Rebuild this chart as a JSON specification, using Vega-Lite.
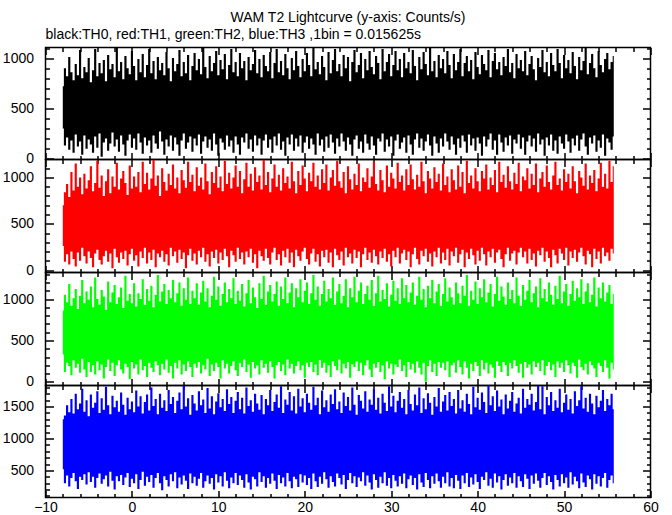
{
"$schema": "https://vega.github.io/schema/vega-lite/v6.json",
"autosize": {"type": "pad"},
"padding": {"left": 1.5, "top": 10.5, "right": 0, "bottom": 0},
"background": "white",
"spacing": 0,
"bounds": "flush",
"title": {"text": "WAM T2 Lightcurve (y-axis: Counts/s)", "anchor": "middle", "frame": "group", "font": "Liberation Sans", "fontSize": 14, "fontWeight": "normal", "color": "black", "offset": 2.5},
"config": {
  "view": {"stroke": "black", "strokeWidth": 1.5},
  "concat": {"spacing": 0},
  "axis": {"domain": false, "grid": false, "ticks": true, "tickColor": "black", "tickWidth": 1.5, "labelFont": "Liberation Sans", "labelFontSize": 14, "labelColor": "black", "title": null, "labelOverlap": false, "labelFlush": false, "format": "d"}
},
"data": {"values": [
{"x":-8,"a":720,"b":300,"c":700,"d":260,"e":860,"f":330,"g":1300,"h":520},
{"x":-7.75,"a":900,"b":130,"c":840,"d":90,"e":1050,"f":120,"g":1360,"h":300},
{"x":-7.5,"a":820,"b":210,"c":930,"d":170,"e":960,"f":230,"g":1520,"h":420},
{"x":-7.25,"a":1010,"b":90,"c":790,"d":60,"e":1180,"f":190,"g":1410,"h":250},
{"x":-7,"a":860,"b":180,"c":1060,"d":200,"e":920,"f":80,"g":1620,"h":380},
{"x":-6.75,"a":780,"b":60,"c":860,"d":120,"e":1010,"f":260,"g":1390,"h":460},
{"x":-6.5,"a":940,"b":240,"c":1150,"d":40,"e":1120,"f":170,"g":1700,"h":330},
{"x":-6.25,"a":830,"b":120,"c":900,"d":190,"e":880,"f":220,"g":1460,"h":210},
{"x":-6,"a":1080,"b":170,"c":1000,"d":100,"e":1040,"f":110,"g":1550,"h":400},
{"x":-5.75,"a":800,"b":40,"c":820,"d":240,"e":1230,"f":280,"g":1780,"h":350},
{"x":-5.5,"a":910,"b":230,"c":1040,"d":150,"e":950,"f":150,"g":1420,"h":440},
{"x":-5.25,"a":860,"b":100,"c":880,"d":70,"e":1090,"f":60,"g":1600,"h":280},
{"x":-5,"a":1000,"b":190,"c":970,"d":200,"e":990,"f":240,"g":1350,"h":470},
{"x":-4.75,"a":760,"b":140,"c":1120,"d":130,"e":1150,"f":120,"g":1690,"h":320},
{"x":-4.5,"a":880,"b":60,"c":850,"d":30,"e":900,"f":200,"g":1480,"h":400},
{"x":-4.25,"a":1090,"b":220,"c":940,"d":180,"e":1260,"f":90,"g":1560,"h":230},
{"x":-4,"a":820,"b":110,"c":1180,"d":220,"e":1000,"f":250,"g":1740,"h":380},
{"x":-3.75,"a":950,"b":250,"c":890,"d":110,"e":930,"f":140,"g":1400,"h":450},
{"x":-3.5,"a":850,"b":20,"c":1020,"d":60,"e":1110,"f":210,"g":1630,"h":290},
{"x":-3.25,"a":980,"b":160,"c":800,"d":150,"e":1030,"f":40,"g":1450,"h":360},
{"x":-3,"a":770,"b":200,"c":960,"d":210,"e":870,"f":180,"g":1810,"h":420},
{"x":-2.75,"a":1030,"b":80,"c":1090,"d":90,"e":1210,"f":270,"g":1520,"h":250},
{"x":-2.5,"a":890,"b":150,"c":830,"d":180,"e":960,"f":130,"g":1380,"h":480},
{"x":-2.25,"a":940,"b":260,"c":1010,"d":20,"e":1080,"f":230,"g":1670,"h":340},
{"x":-2,"a":810,"b":120,"c":900,"d":230,"e":1170,"f":70,"g":1490,"h":200},
{"x":-1.75,"a":1100,"b":190,"c":1160,"d":140,"e":940,"f":200,"g":1590,"h":410},
{"x":-1.5,"a":870,"b":70,"c":870,"d":80,"e":1020,"f":260,"g":1420,"h":330},
{"x":-1.25,"a":960,"b":230,"c":990,"d":190,"e":1140,"f":150,"g":1720,"h":430},
{"x":-1,"a":790,"b":140,"c":1070,"d":120,"e":890,"f":100,"g":1530,"h":270},
{"x":-0.75,"a":1020,"b":30,"c":940,"d":210,"e":1280,"f":220,"g":1370,"h":390},
{"x":-0.5,"a":900,"b":180,"c":810,"d":50,"e":980,"f":180,"g":1640,"h":460},
{"x":-0.25,"a":840,"b":240,"c":1130,"d":170,"e":1060,"f":30,"g":1460,"h":240},
{"x":0,"a":1070,"b":110,"c":880,"d":230,"e":950,"f":240,"g":1580,"h":370},
{"x":0.25,"a":920,"b":200,"c":1010,"d":100,"e":1190,"f":160,"g":1410,"h":300},
{"x":0.5,"a":780,"b":90,"c":900,"d":160,"e":910,"f":210,"g":1750,"h":440},
{"x":0.75,"a":990,"b":250,"c":1060,"d":40,"e":1070,"f":90,"g":1500,"h":210},
{"x":1,"a":860,"b":160,"c":840,"d":200,"e":1000,"f":270,"g":1660,"h":350},
{"x":1.25,"a":1040,"b":50,"c":1170,"d":130,"e":1240,"f":140,"g":1390,"h":480},
{"x":1.5,"a":810,"b":210,"c":930,"d":240,"e":930,"f":190,"g":1570,"h":260},
{"x":1.75,"a":930,"b":130,"c":1050,"d":70,"e":1120,"f":60,"g":1690,"h":400},
{"x":2,"a":1090,"b":180,"c":870,"d":190,"e":980,"f":230,"g":1440,"h":320},
{"x":2.25,"a":850,"b":60,"c":990,"d":110,"e":1160,"f":170,"g":1800,"h":430},
{"x":2.5,"a":970,"b":230,"c":1190,"d":220,"e":900,"f":120,"g":1510,"h":230},
{"x":2.75,"a":790,"b":150,"c":910,"d":30,"e":1050,"f":250,"g":1620,"h":380},
{"x":3,"a":1010,"b":100,"c":1020,"d":180,"e":1290,"f":200,"g":1380,"h":460},
{"x":3.25,"a":880,"b":270,"c":800,"d":140,"e":970,"f":80,"g":1700,"h":300},
{"x":3.5,"a":950,"b":170,"c":1100,"d":210,"e":1090,"f":220,"g":1480,"h":190},
{"x":3.75,"a":830,"b":40,"c":950,"d":90,"e":1180,"f":150,"g":1600,"h":410},
{"x":4,"a":1060,"b":190,"c":860,"d":170,"e":940,"f":270,"g":1430,"h":350},
{"x":4.25,"a":900,"b":120,"c":1040,"d":50,"e":1110,"f":110,"g":1760,"h":250},
{"x":4.5,"a":770,"b":230,"c":920,"d":240,"e":1010,"f":190,"g":1540,"h":440},
{"x":4.75,"a":1000,"b":80,"c":1140,"d":150,"e":1230,"f":40,"g":1650,"h":330},
{"x":5,"a":870,"b":210,"c":880,"d":200,"e":960,"f":230,"g":1400,"h":470},
{"x":5.25,"a":940,"b":140,"c":1000,"d":80,"e":1070,"f":160,"g":1590,"h":220},
{"x":5.5,"a":1080,"b":30,"c":830,"d":220,"e":1200,"f":260,"g":1720,"h":390},
{"x":5.75,"a":820,"b":180,"c":1080,"d":120,"e":920,"f":90,"g":1460,"h":280},
{"x":6,"a":960,"b":250,"c":970,"d":190,"e":1130,"f":210,"g":1830,"h":420},
{"x":6.25,"a":850,"b":100,"c":890,"d":20,"e":990,"f":130,"g":1500,"h":340},
{"x":6.5,"a":1030,"b":160,"c":1170,"d":160,"e":1260,"f":250,"g":1630,"h":210},
{"x":6.75,"a":780,"b":220,"c":950,"d":230,"e":940,"f":180,"g":1370,"h":450},
{"x":7,"a":920,"b":70,"c":1030,"d":100,"e":1100,"f":60,"g":1680,"h":300},
{"x":7.25,"a":1050,"b":200,"c":850,"d":180,"e":1010,"f":220,"g":1550,"h":400},
{"x":7.5,"a":880,"b":130,"c":1110,"d":60,"e":1190,"f":170,"g":1440,"h":260},
{"x":7.75,"a":990,"b":240,"c":910,"d":210,"e":930,"f":240,"g":1740,"h":370},
{"x":8,"a":840,"b":50,"c":1000,"d":140,"e":1080,"f":100,"g":1520,"h":460},
{"x":8.25,"a":1100,"b":170,"c":870,"d":240,"e":1220,"f":200,"g":1610,"h":230},
{"x":8.5,"a":910,"b":220,"c":1150,"d":90,"e":970,"f":150,"g":1400,"h":330},
{"x":8.75,"a":800,"b":110,"c":960,"d":170,"e":1130,"f":280,"g":1790,"h":420},
{"x":9,"a":1020,"b":190,"c":820,"d":40,"e":900,"f":70,"g":1470,"h":290},
{"x":9.25,"a":870,"b":80,"c":1060,"d":200,"e":1040,"f":210,"g":1660,"h":380},
{"x":9.5,"a":950,"b":250,"c":940,"d":130,"e":1270,"f":130,"g":1380,"h":200},
{"x":9.75,"a":1070,"b":140,"c":1120,"d":220,"e":990,"f":230,"g":1580,"h":440},
{"x":10,"a":830,"b":30,"c":890,"d":70,"e":1150,"f":180,"g":1710,"h":310},
{"x":10.25,"a":980,"b":200,"c":1010,"d":190,"e":920,"f":40,"g":1490,"h":410},
{"x":10.5,"a":890,"b":160,"c":850,"d":110,"e":1060,"f":260,"g":1620,"h":250},
{"x":10.75,"a":1040,"b":90,"c":1180,"d":230,"e":1200,"f":160,"g":1430,"h":470},
{"x":11,"a":790,"b":230,"c":930,"d":150,"e":960,"f":220,"g":1770,"h":340},
{"x":11.25,"a":930,"b":120,"c":1050,"d":30,"e":1120,"f":100,"g":1540,"h":220},
{"x":11.5,"a":1090,"b":180,"c":880,"d":210,"e":1010,"f":190,"g":1650,"h":390},
{"x":11.75,"a":860,"b":60,"c":1000,"d":160,"e":1250,"f":250,"g":1400,"h":300},
{"x":12,"a":960,"b":220,"c":1130,"d":90,"e":940,"f":140,"g":1590,"h":460},
{"x":12.25,"a":820,"b":140,"c":900,"d":240,"e":1100,"f":70,"g":1730,"h":270},
{"x":12.5,"a":1050,"b":40,"c":1070,"d":120,"e":980,"f":230,"g":1460,"h":420},
{"x":12.75,"a":900,"b":210,"c":830,"d":190,"e":1180,"f":180,"g":1640,"h":350},
{"x":13,"a":970,"b":160,"c":980,"d":60,"e":910,"f":270,"g":1390,"h":230},
{"x":13.25,"a":780,"b":250,"c":1160,"d":200,"e":1070,"f":120,"g":1800,"h":440},
{"x":13.5,"a":1010,"b":100,"c":900,"d":140,"e":1230,"f":210,"g":1510,"h":310},
{"x":13.75,"a":880,"b":190,"c":1040,"d":230,"e":950,"f":50,"g":1600,"h":200},
{"x":14,"a":940,"b":70,"c":860,"d":80,"e":1140,"f":240,"g":1420,"h":400},
{"x":14.25,"a":1080,"b":230,"c":1110,"d":170,"e":1020,"f":160,"g":1700,"h":360},
{"x":14.5,"a":850,"b":130,"c":950,"d":20,"e":890,"f":200,"g":1550,"h":250},
{"x":14.75,"a":990,"b":200,"c":1020,"d":210,"e":1190,"f":90,"g":1450,"h":470},
{"x":15,"a":810,"b":40,"c":870,"d":150,"e":1000,"f":260,"g":1680,"h":320},
{"x":15.25,"a":1030,"b":180,"c":1190,"d":100,"e":1280,"f":170,"g":1380,"h":410},
{"x":15.5,"a":920,"b":240,"c":920,"d":230,"e":930,"f":220,"g":1620,"h":230},
{"x":15.75,"a":870,"b":110,"c":1060,"d":130,"e":1090,"f":110,"g":1520,"h":380},
{"x":16,"a":1060,"b":190,"c":840,"d":60,"e":1170,"f":250,"g":1760,"h":290},
{"x":16.25,"a":800,"b":60,"c":990,"d":190,"e":970,"f":180,"g":1430,"h":450},
{"x":16.5,"a":950,"b":220,"c":1140,"d":240,"e":1060,"f":40,"g":1570,"h":340},
{"x":16.75,"a":1090,"b":130,"c":900,"d":110,"e":1210,"f":200,"g":1690,"h":210},
{"x":17,"a":860,"b":250,"c":1030,"d":170,"e":920,"f":240,"g":1480,"h":430},
{"x":17.25,"a":970,"b":90,"c":860,"d":50,"e":1150,"f":130,"g":1820,"h":300},
{"x":17.5,"a":830,"b":170,"c":1100,"d":210,"e":1000,"f":210,"g":1400,"h":390},
{"x":17.75,"a":1040,"b":30,"c":940,"d":140,"e":1260,"f":80,"g":1610,"h":250},
{"x":18,"a":900,"b":210,"c":1010,"d":230,"e":950,"f":270,"g":1530,"h":460},
{"x":18.25,"a":790,"b":140,"c":880,"d":80,"e":1080,"f":160,"g":1730,"h":330},
{"x":18.5,"a":1000,"b":240,"c":1170,"d":190,"e":1190,"f":220,"g":1440,"h":220},
{"x":18.75,"a":880,"b":80,"c":960,"d":30,"e":900,"f":100,"g":1660,"h":400},
{"x":19,"a":1070,"b":200,"c":830,"d":220,"e":1130,"f":190,"g":1390,"h":360},
{"x":19.25,"a":920,"b":120,"c":1070,"d":150,"e":1020,"f":250,"g":1780,"h":240},
{"x":19.5,"a":810,"b":230,"c":920,"d":100,"e":1240,"f":140,"g":1500,"h":440},
{"x":19.75,"a":990,"b":60,"c":1130,"d":200,"e":960,"f":200,"g":1630,"h":310},
{"x":20,"a":870,"b":160,"c":990,"d":240,"e":1100,"f":50,"g":1410,"h":420},
{"x":20.25,"a":1050,"b":220,"c":850,"d":120,"e":1200,"f":230,"g":1700,"h":270},
{"x":20.5,"a":930,"b":100,"c":1050,"d":60,"e":940,"f":180,"g":1560,"h":380},
{"x":20.75,"a":820,"b":200,"c":960,"d":180,"e":1070,"f":240,"g":1450,"h":210},
{"x":21,"a":1100,"b":140,"c":1160,"d":230,"e":1290,"f":120,"g":1810,"h":450},
{"x":21.25,"a":890,"b":40,"c":900,"d":90,"e":990,"f":210,"g":1520,"h":330},
{"x":21.5,"a":960,"b":250,"c":1020,"d":170,"e":1150,"f":80,"g":1640,"h":240},
{"x":21.75,"a":840,"b":130,"c":870,"d":40,"e":920,"f":260,"g":1380,"h":400},
{"x":22,"a":1020,"b":190,"c":1090,"d":210,"e":1060,"f":170,"g":1750,"h":290},
{"x":22.25,"a":910,"b":70,"c":940,"d":140,"e":1220,"f":230,"g":1490,"h":470},
{"x":22.5,"a":780,"b":220,"c":1140,"d":220,"e":970,"f":110,"g":1600,"h":360},
{"x":22.75,"a":1060,"b":110,"c":860,"d":80,"e":1120,"f":200,"g":1420,"h":230},
{"x":23,"a":850,"b":240,"c":1000,"d":190,"e":1010,"f":60,"g":1690,"h":410},
{"x":23.25,"a":980,"b":160,"c":1080,"d":30,"e":1260,"f":250,"g":1540,"h":320},
{"x":23.5,"a":1090,"b":50,"c":910,"d":230,"e":930,"f":190,"g":1770,"h":250},
{"x":23.75,"a":870,"b":200,"c":1180,"d":160,"e":1090,"f":140,"g":1460,"h":450},
{"x":24,"a":940,"b":120,"c":960,"d":110,"e":1180,"f":270,"g":1580,"h":380},
{"x":24.25,"a":820,"b":250,"c":890,"d":200,"e":950,"f":100,"g":1400,"h":280},
{"x":24.5,"a":1030,"b":170,"c":1060,"d":50,"e":1040,"f":220,"g":1720,"h":430},
{"x":24.75,"a":900,"b":80,"c":830,"d":240,"e":1240,"f":160,"g":1510,"h":210},
{"x":25,"a":1010,"b":210,"c":1120,"d":140,"e":900,"f":240,"g":1650,"h":350},
{"x":25.25,"a":770,"b":140,"c":980,"d":180,"e":1130,"f":50,"g":1440,"h":460},
{"x":25.5,"a":960,"b":30,"c":870,"d":70,"e":1020,"f":210,"g":1800,"h":300},
{"x":25.75,"a":1080,"b":190,"c":1040,"d":220,"e":1270,"f":180,"g":1530,"h":410},
{"x":26,"a":860,"b":230,"c":920,"d":130,"e":960,"f":250,"g":1370,"h":240},
{"x":26.25,"a":930,"b":100,"c":1150,"d":200,"e":1100,"f":130,"g":1680,"h":390},
{"x":26.5,"a":1050,"b":170,"c":850,"d":30,"e":1200,"f":230,"g":1590,"h":330},
{"x":26.75,"a":800,"b":60,"c":1000,"d":170,"e":940,"f":80,"g":1470,"h":470},
{"x":27,"a":990,"b":240,"c":950,"d":240,"e":1060,"f":200,"g":1740,"h":260},
{"x":27.25,"a":880,"b":150,"c":1100,"d":110,"e":1160,"f":260,"g":1420,"h":420},
{"x":27.5,"a":1070,"b":90,"c":890,"d":190,"e":990,"f":150,"g":1610,"h":310},
{"x":27.75,"a":910,"b":220,"c":1010,"d":80,"e":1230,"f":60,"g":1530,"h":200},
{"x":28,"a":840,"b":130,"c":1170,"d":220,"e":920,"f":220,"g":1780,"h":440},
{"x":28.25,"a":1020,"b":40,"c":930,"d":150,"e":1070,"f":170,"g":1450,"h":350},
{"x":28.5,"a":950,"b":200,"c":860,"d":60,"e":1280,"f":240,"g":1640,"h":230},
{"x":28.75,"a":790,"b":170,"c":1080,"d":200,"e":970,"f":120,"g":1390,"h":400},
{"x":29,"a":1090,"b":250,"c":970,"d":130,"e":1110,"f":200,"g":1700,"h":300},
{"x":29.25,"a":870,"b":70,"c":840,"d":230,"e":1000,"f":30,"g":1560,"h":470},
{"x":29.5,"a":960,"b":190,"c":1130,"d":90,"e":1190,"f":250,"g":1430,"h":260},
{"x":29.75,"a":1040,"b":120,"c":900,"d":170,"e":910,"f":160,"g":1820,"h":380},
{"x":30,"a":820,"b":220,"c":1050,"d":40,"e":1050,"f":220,"g":1500,"h":220},
{"x":30.25,"a":930,"b":30,"c":990,"d":210,"e":1220,"f":90,"g":1670,"h":430},
{"x":30.5,"a":1070,"b":180,"c":880,"d":140,"e":980,"f":210,"g":1410,"h":340},
{"x":30.75,"a":880,"b":240,"c":1160,"d":240,"e":1130,"f":180,"g":1590,"h":250},
{"x":31,"a":990,"b":100,"c":950,"d":70,"e":940,"f":270,"g":1730,"h":410},
{"x":31.25,"a":810,"b":160,"c":1020,"d":180,"e":1250,"f":130,"g":1480,"h":290},
{"x":31.5,"a":1050,"b":210,"c":860,"d":220,"e":1010,"f":200,"g":1620,"h":450},
{"x":31.75,"a":900,"b":60,"c":1090,"d":110,"e":1170,"f":60,"g":1380,"h":220},
{"x":32,"a":960,"b":230,"c":920,"d":200,"e":960,"f":240,"g":1760,"h":360},
{"x":32.25,"a":850,"b":140,"c":1140,"d":30,"e":1080,"f":150,"g":1540,"h":420},
{"x":32.5,"a":1080,"b":40,"c":980,"d":170,"e":1200,"f":220,"g":1440,"h":270},
{"x":32.75,"a":920,"b":190,"c":870,"d":240,"e":930,"f":110,"g":1690,"h":380},
{"x":33,"a":780,"b":250,"c":1030,"d":120,"e":1040,"f":250,"g":1520,"h":200},
{"x":33.25,"a":1010,"b":110,"c":900,"d":60,"e":1270,"f":170,"g":1800,"h":440},
{"x":33.5,"a":890,"b":200,"c":1170,"d":210,"e":990,"f":90,"g":1400,"h":310},
{"x":33.75,"a":1060,"b":80,"c":960,"d":150,"e":1120,"f":230,"g":1630,"h":240},
{"x":34,"a":940,"b":170,"c":830,"d":230,"e":900,"f":0,"g":1460,"h":460},
{"x":34.25,"a":830,"b":240,"c":1070,"d":90,"e":1160,"f":190,"g":1710,"h":350},
{"x":34.5,"a":1100,"b":130,"c":990,"d":180,"e":1010,"f":260,"g":1560,"h":220},
{"x":34.75,"a":870,"b":30,"c":880,"d":40,"e":1230,"f":120,"g":1370,"h":410},
{"x":35,"a":970,"b":220,"c":1110,"d":200,"e":950,"f":220,"g":1650,"h":290},
{"x":35.25,"a":810,"b":150,"c":950,"d":140,"e":1090,"f":70,"g":1500,"h":450},
{"x":35.5,"a":1030,"b":60,"c":1040,"d":240,"e":1180,"f":240,"g":1790,"h":330},
{"x":35.75,"a":900,"b":200,"c":860,"d":70,"e":920,"f":170,"g":1420,"h":230},
{"x":36,"a":990,"b":120,"c":1150,"d":190,"e":1060,"f":230,"g":1580,"h":400},
{"x":36.25,"a":850,"b":250,"c":920,"d":110,"e":1250,"f":140,"g":1680,"h":300},
{"x":36.5,"a":1070,"b":170,"c":1010,"d":230,"e":970,"f":250,"g":1440,"h":470},
{"x":36.75,"a":930,"b":90,"c":840,"d":50,"e":1140,"f":60,"g":1730,"h":250},
{"x":37,"a":800,"b":220,"c":1090,"d":200,"e":1020,"f":200,"g":1510,"h":380},
{"x":37.25,"a":1040,"b":140,"c":970,"d":150,"e":930,"f":230,"g":1620,"h":220},
{"x":37.5,"a":880,"b":40,"c":870,"d":240,"e":1200,"f":110,"g":1390,"h":430},
{"x":37.75,"a":960,"b":200,"c":1130,"d":80,"e":1070,"f":260,"g":1760,"h":340},
{"x":38,"a":1090,"b":110,"c":900,"d":170,"e":950,"f":180,"g":1470,"h":210},
{"x":38.25,"a":820,"b":230,"c":1060,"d":220,"e":1160,"f":90,"g":1600,"h":420},
{"x":38.5,"a":950,"b":170,"c":830,"d":30,"e":1040,"f":250,"g":1420,"h":300},
{"x":38.75,"a":1020,"b":60,"c":1180,"d":190,"e":1290,"f":170,"g":1700,"h":460},
{"x":39,"a":870,"b":240,"c":940,"d":120,"e":920,"f":40,"g":1540,"h":240},
{"x":39.25,"a":980,"b":130,"c":1020,"d":230,"e":1100,"f":220,"g":1380,"h":390},
{"x":39.5,"a":790,"b":200,"c":880,"d":160,"e":990,"f":130,"g":1810,"h":280},
{"x":39.75,"a":1060,"b":80,"c":1100,"d":60,"e":1210,"f":240,"g":1490,"h":440},
{"x":40,"a":910,"b":210,"c":960,"d":210,"e":940,"f":190,"g":1640,"h":320},
{"x":40.25,"a":840,"b":150,"c":850,"d":100,"e":1130,"f":70,"g":1450,"h":210},
{"x":40.5,"a":1030,"b":30,"c":1070,"d":240,"e":1020,"f":260,"g":1720,"h":400},
{"x":40.75,"a":940,"b":220,"c":990,"d":170,"e":1240,"f":150,"g":1570,"h":350},
{"x":41,"a":880,"b":120,"c":1140,"d":50,"e":960,"f":230,"g":1400,"h":470},
{"x":41.25,"a":1080,"b":190,"c":870,"d":200,"e":1080,"f":100,"g":1840,"h":260},
{"x":41.5,"a":810,"b":250,"c":1000,"d":140,"e":1180,"f":210,"g":1520,"h":370},
{"x":41.75,"a":970,"b":90,"c":920,"d":230,"e":910,"f":170,"g":1660,"h":230},
{"x":42,"a":1050,"b":180,"c":1080,"d":80,"e":1060,"f":50,"g":1430,"h":450},
{"x":42.25,"a":890,"b":40,"c":840,"d":190,"e":1270,"f":250,"g":1750,"h":310},
{"x":42.5,"a":960,"b":240,"c":1170,"d":220,"e":980,"f":190,"g":1500,"h":410},
{"x":42.75,"a":830,"b":160,"c":950,"d":120,"e":1150,"f":120,"g":1610,"h":200},
{"x":43,"a":1010,"b":70,"c":1030,"d":30,"e":1030,"f":240,"g":1380,"h":350},
{"x":43.25,"a":920,"b":210,"c":890,"d":170,"e":930,"f":200,"g":1690,"h":440},
{"x":43.5,"a":1090,"b":130,"c":1120,"d":240,"e":1200,"f":70,"g":1470,"h":260},
{"x":43.75,"a":860,"b":230,"c":960,"d":100,"e":1000,"f":230,"g":1590,"h":390},
{"x":44,"a":950,"b":50,"c":870,"d":180,"e":1110,"f":160,"g":1730,"h":300},
{"x":44.25,"a":800,"b":190,"c":1050,"d":210,"e":950,"f":260,"g":1420,"h":460},
{"x":44.5,"a":1040,"b":150,"c":930,"d":60,"e":1260,"f":190,"g":1550,"h":230},
{"x":44.75,"a":900,"b":240,"c":1160,"d":190,"e":1040,"f":110,"g":1640,"h":410},
{"x":45,"a":980,"b":100,"c":850,"d":240,"e":920,"f":220,"g":1390,"h":330},
{"x":45.25,"a":870,"b":210,"c":1010,"d":140,"e":1170,"f":50,"g":1780,"h":240},
{"x":45.5,"a":1070,"b":40,"c":970,"d":200,"e":990,"f":240,"g":1480,"h":440},
{"x":45.75,"a":830,"b":170,"c":1100,"d":70,"e":1100,"f":170,"g":1620,"h":370},
{"x":46,"a":940,"b":230,"c":880,"d":230,"e":1230,"f":210,"g":1530,"h":210},
{"x":46.25,"a":1020,"b":120,"c":1040,"d":110,"e":960,"f":90,"g":1700,"h":420},
{"x":46.5,"a":890,"b":200,"c":920,"d":180,"e":1070,"f":250,"g":1440,"h":290},
{"x":46.75,"a":780,"b":70,"c":1150,"d":40,"e":1150,"f":180,"g":1570,"h":450},
{"x":47,"a":1000,"b":250,"c":840,"d":210,"e":900,"f":230,"g":1830,"h":340},
{"x":47.25,"a":910,"b":140,"c":990,"d":160,"e":1250,"f":130,"g":1460,"h":230},
{"x":47.5,"a":1080,"b":190,"c":1060,"d":240,"e":1010,"f":260,"g":1820,"h":380},
{"x":47.75,"a":860,"b":30,"c":900,"d":90,"e":1120,"f":80,"g":1380,"h":460},
{"x":48,"a":960,"b":210,"c":1130,"d":200,"e":970,"f":190,"g":1650,"h":270},
{"x":48.25,"a":820,"b":130,"c":950,"d":130,"e":1200,"f":240,"g":1520,"h":410},
{"x":48.5,"a":1050,"b":240,"c":870,"d":30,"e":1050,"f":140,"g":1730,"h":320},
{"x":48.75,"a":930,"b":80,"c":1020,"d":220,"e":930,"f":210,"g":1430,"h":200},
{"x":49,"a":870,"b":180,"c":1170,"d":160,"e":1160,"f":60,"g":1600,"h":430},
{"x":49.25,"a":1090,"b":50,"c":920,"d":70,"e":1000,"f":250,"g":1480,"h":350},
{"x":49.5,"a":950,"b":220,"c":990,"d":230,"e":1280,"f":170,"g":1780,"h":250},
{"x":49.75,"a":800,"b":150,"c":860,"d":180,"e":950,"f":230,"g":1410,"h":440},
{"x":50,"a":1030,"b":100,"c":1090,"d":110,"e":1090,"f":120,"g":1560,"h":300},
{"x":50.25,"a":900,"b":240,"c":950,"d":240,"e":1180,"f":260,"g":1690,"h":390},
{"x":50.5,"a":980,"b":170,"c":1040,"d":50,"e":920,"f":200,"g":1450,"h":230},
{"x":50.75,"a":850,"b":60,"c":880,"d":200,"e":1060,"f":100,"g":1620,"h":470},
{"x":51,"a":1060,"b":200,"c":1120,"d":130,"e":1220,"f":230,"g":1390,"h":280},
{"x":51.25,"a":920,"b":130,"c":960,"d":220,"e":980,"f":190,"g":1740,"h":400},
{"x":51.5,"a":790,"b":230,"c":830,"d":90,"e":1130,"f":50,"g":1510,"h":330},
{"x":51.75,"a":1010,"b":80,"c":1070,"d":190,"e":1020,"f":270,"g":1600,"h":220},
{"x":52,"a":880,"b":190,"c":1000,"d":240,"e":1240,"f":180,"g":1820,"h":450},
{"x":52.25,"a":970,"b":250,"c":910,"d":150,"e":940,"f":140,"g":1470,"h":310},
{"x":52.5,"a":1100,"b":120,"c":1150,"d":60,"e":1090,"f":220,"g":1640,"h":240},
{"x":52.75,"a":840,"b":40,"c":870,"d":210,"e":1190,"f":90,"g":1420,"h":420},
{"x":53,"a":950,"b":210,"c":1020,"d":170,"e":960,"f":250,"g":1700,"h":360},
{"x":53.25,"a":1040,"b":150,"c":940,"d":30,"e":1050,"f":200,"g":1550,"h":200},
{"x":53.5,"a":900,"b":230,"c":1080,"d":230,"e":1260,"f":160,"g":1380,"h":440},
{"x":53.75,"a":810,"b":70,"c":850,"d":120,"e":910,"f":60,"g":1670,"h":290},
{"x":54,"a":1070,"b":180,"c":990,"d":200,"e":1140,"f":230,"g":1490,"h":410},
{"x":54.25,"a":930,"b":110,"c":1160,"d":70,"e":1010,"f":190,"g":1590,"h":250},
{"x":54.5,"a":860,"b":240,"c":900,"d":240,"e":1200,"f":120,"g":1760,"h":380},
{"x":54.75,"a":990,"b":30,"c":1040,"d":150,"e":970,"f":260,"g":1430,"h":460},
{"x":55,"a":1050,"b":200,"c":880,"d":190,"e":1080,"f":170,"g":1620,"h":230},
{"x":55.25,"a":890,"b":160,"c":1180,"d":100,"e":1170,"f":40,"g":1520,"h":350},
{"x":55.5,"a":960,"b":90,"c":950,"d":230,"e":940,"f":230,"g":1700,"h":420},
{"x":55.75,"a":1020,"b":220,"c":1120,"d":180,"e":1060,"f":150,"g":1460,"h":300}
]},
"vconcat": [
{
  "width": 605, "height": 112,
  "title": {"text": "black:TH0, red:TH1, green:TH2, blue:TH3 ,1bin = 0.015625s", "anchor": "start", "frame": "group", "font": "Liberation Sans", "fontSize": 14, "fontWeight": "normal", "color": "black", "offset": -1},
  "layer": [
    {"mark": {"type": "area", "color": "#000000", "clip": true, "interpolate": "step"},
     "encoding": {
       "x": {"field": "x", "type": "quantitative", "scale": {"domain": [-10, 60], "nice": false, "zero": false},
             "axis": {"orient": "bottom", "labels": false, "values": [-10,-8,-6,-4,-2,0,2,4,6,8,10,12,14,16,18,20,22,24,26,28,30,32,34,36,38,40,42,44,46,48,50,52,54,56,58,60], "tickSize": {"condition": {"test": "datum.value % 10 === 0", "value": -7}, "value": -4}}},
       "y": {"field": "a", "type": "quantitative", "scale": {"domain": [-8, 1105], "nice": false, "zero": false},
             "axis": {"orient": "left", "values": [0,100,200,300,400,500,600,700,800,900,1000,1100], "labelExpr": "datum.value % 500 === 0 ? datum.label : ''", "labelPadding": 20, "tickSize": {"condition": {"test": "datum.value % 500 === 0", "value": -8}, "value": -4}}},
       "y2": {"field": "b"}
     }},
    {"mark": {"type": "area", "opacity": 0},
     "encoding": {
       "x": {"field": "x", "type": "quantitative", "axis": {"orient": "top", "labels": false, "values": [-10,-8,-6,-4,-2,0,2,4,6,8,10,12,14,16,18,20,22,24,26,28,30,32,34,36,38,40,42,44,46,48,50,52,54,56,58,60], "tickSize": {"condition": {"test": "datum.value % 10 === 0", "value": -7}, "value": -4}}},
       "y": {"field": "a", "type": "quantitative", "axis": {"orient": "right", "labels": false, "values": [0,100,200,300,400,500,600,700,800,900,1000,1100], "tickSize": {"condition": {"test": "datum.value % 500 === 0", "value": -8}, "value": -4}}},
       "y2": {"field": "b"}
     }}
  ],
  "resolve": {"axis": {"x": "independent", "y": "independent"}}
},
{
  "width": 605, "height": 113,
  "layer": [
    {"mark": {"type": "area", "color": "#ff0000", "clip": true, "interpolate": "step"},
     "encoding": {
       "x": {"field": "x", "type": "quantitative", "scale": {"domain": [-10, 60], "nice": false, "zero": false},
             "axis": {"orient": "bottom", "labels": false, "values": [-10,-8,-6,-4,-2,0,2,4,6,8,10,12,14,16,18,20,22,24,26,28,30,32,34,36,38,40,42,44,46,48,50,52,54,56,58,60], "tickSize": {"condition": {"test": "datum.value % 10 === 0", "value": -7}, "value": -4}}},
       "y": {"field": "c", "type": "quantitative", "scale": {"domain": [-26, 1194], "nice": false, "zero": false},
             "axis": {"orient": "left", "values": [0,100,200,300,400,500,600,700,800,900,1000,1100], "labelExpr": "datum.value % 500 === 0 ? datum.label : ''", "labelPadding": 20, "tickSize": {"condition": {"test": "datum.value % 500 === 0", "value": -8}, "value": -4}}},
       "y2": {"field": "d"}
     }},
    {"mark": {"type": "area", "opacity": 0},
     "encoding": {
       "x": {"field": "x", "type": "quantitative", "axis": {"orient": "top", "labels": false, "values": [-10,-8,-6,-4,-2,0,2,4,6,8,10,12,14,16,18,20,22,24,26,28,30,32,34,36,38,40,42,44,46,48,50,52,54,56,58,60], "tickSize": {"condition": {"test": "datum.value % 10 === 0", "value": -7}, "value": -4}}},
       "y": {"field": "c", "type": "quantitative", "axis": {"orient": "right", "labels": false, "values": [0,100,200,300,400,500,600,700,800,900,1000,1100], "tickSize": {"condition": {"test": "datum.value % 500 === 0", "value": -8}, "value": -4}}},
       "y2": {"field": "d"}
     }}
  ],
  "resolve": {"axis": {"x": "independent", "y": "independent"}}
},
{
  "width": 605, "height": 113,
  "layer": [
    {"mark": {"type": "area", "color": "#00ff00", "clip": true, "interpolate": "step"},
     "encoding": {
       "x": {"field": "x", "type": "quantitative", "scale": {"domain": [-10, 60], "nice": false, "zero": false},
             "axis": {"orient": "bottom", "labels": false, "values": [-10,-8,-6,-4,-2,0,2,4,6,8,10,12,14,16,18,20,22,24,26,28,30,32,34,36,38,40,42,44,46,48,50,52,54,56,58,60], "tickSize": {"condition": {"test": "datum.value % 10 === 0", "value": -7}, "value": -4}}},
       "y": {"field": "e", "type": "quantitative", "scale": {"domain": [-44, 1320], "nice": false, "zero": false},
             "axis": {"orient": "left", "values": [0,100,200,300,400,500,600,700,800,900,1000,1100,1200,1300], "labelExpr": "datum.value % 500 === 0 ? datum.label : ''", "labelPadding": 20, "tickSize": {"condition": {"test": "datum.value % 500 === 0", "value": -8}, "value": -4}}},
       "y2": {"field": "f"}
     }},
    {"mark": {"type": "area", "opacity": 0},
     "encoding": {
       "x": {"field": "x", "type": "quantitative", "axis": {"orient": "top", "labels": false, "values": [-10,-8,-6,-4,-2,0,2,4,6,8,10,12,14,16,18,20,22,24,26,28,30,32,34,36,38,40,42,44,46,48,50,52,54,56,58,60], "tickSize": {"condition": {"test": "datum.value % 10 === 0", "value": -7}, "value": -4}}},
       "y": {"field": "e", "type": "quantitative", "axis": {"orient": "right", "labels": false, "values": [0,100,200,300,400,500,600,700,800,900,1000,1100,1200,1300], "tickSize": {"condition": {"test": "datum.value % 500 === 0", "value": -8}, "value": -4}}},
       "y2": {"field": "f"}
     }}
  ],
  "resolve": {"axis": {"x": "independent", "y": "independent"}}
},
{
  "width": 605, "height": 112,
  "layer": [
    {"mark": {"type": "area", "color": "#0000ff", "clip": true, "interpolate": "step"},
     "encoding": {
       "x": {"field": "x", "type": "quantitative", "scale": {"domain": [-10, 60], "nice": false, "zero": false},
             "axis": {"orient": "bottom", "values": [-10,-8,-6,-4,-2,0,2,4,6,8,10,12,14,16,18,20,22,24,26,28,30,32,34,36,38,40,42,44,46,48,50,52,54,56,58,60], "labelExpr": "datum.value % 10 === 0 ? replace(datum.label, '-', '−') : ''", "labelPadding": 10, "tickSize": {"condition": {"test": "datum.value % 10 === 0", "value": -7}, "value": -4}}},
       "y": {"field": "g", "type": "quantitative", "scale": {"domain": [76, 1830], "nice": false, "zero": false},
             "axis": {"orient": "left", "values": [100,200,300,400,500,600,700,800,900,1000,1100,1200,1300,1400,1500,1600,1700,1800], "labelExpr": "datum.value % 500 === 0 ? datum.label : ''", "labelPadding": 20, "tickSize": {"condition": {"test": "datum.value % 500 === 0", "value": -8}, "value": -4}}},
       "y2": {"field": "h"}
     }},
    {"mark": {"type": "area", "opacity": 0},
     "encoding": {
       "x": {"field": "x", "type": "quantitative", "axis": {"orient": "top", "labels": false, "values": [-10,-8,-6,-4,-2,0,2,4,6,8,10,12,14,16,18,20,22,24,26,28,30,32,34,36,38,40,42,44,46,48,50,52,54,56,58,60], "tickSize": {"condition": {"test": "datum.value % 10 === 0", "value": -7}, "value": -4}}},
       "y": {"field": "g", "type": "quantitative", "axis": {"orient": "right", "labels": false, "values": [100,200,300,400,500,600,700,800,900,1000,1100,1200,1300,1400,1500,1600,1700,1800], "tickSize": {"condition": {"test": "datum.value % 500 === 0", "value": -8}, "value": -4}}},
       "y2": {"field": "h"}
     }}
  ],
  "resolve": {"axis": {"x": "independent", "y": "independent"}}
}
]
}
